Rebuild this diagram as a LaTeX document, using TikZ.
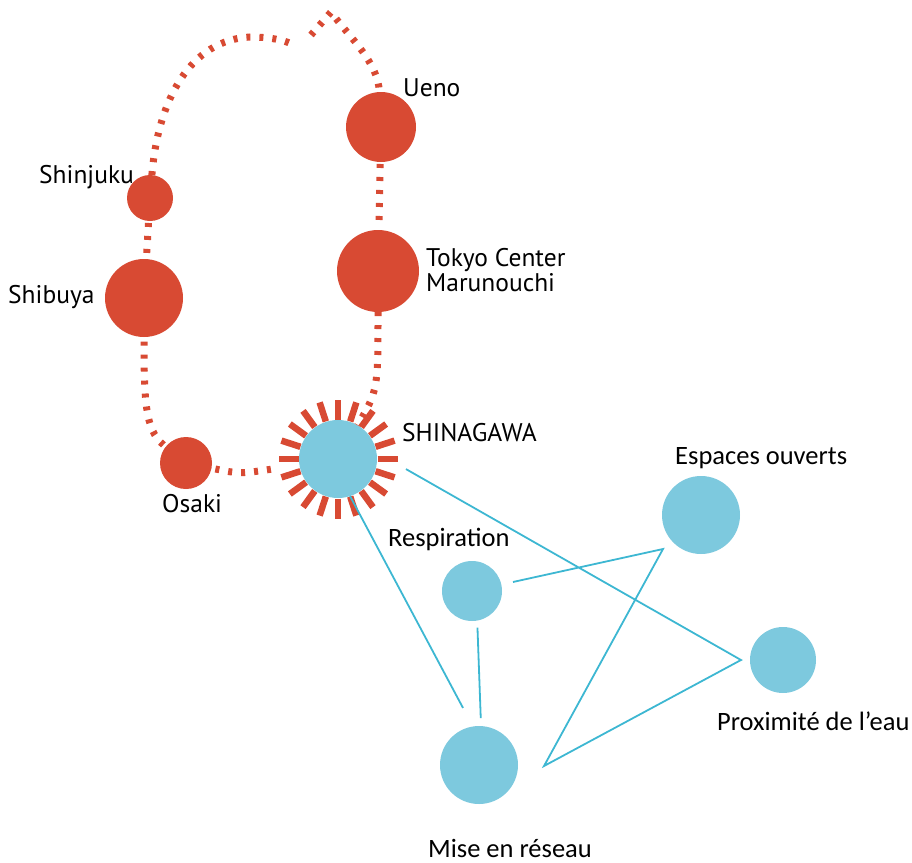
\documentclass[tikz,border=0pt]{standalone}
\usepackage{fontspec}
\setmainfont{Carlito}
\newfontfamily\stationfont{PT Sans}
\usetikzlibrary{calc}
\definecolor{railred}{HTML}{D84A33}
\definecolor{hubblue}{HTML}{7DC9DE}
\definecolor{linkblue}{HTML}{3DB7D2}
\tikzset{
  station/.style={circle, fill=railred, inner sep=0pt, outer sep=0pt, minimum size=#1},
  theme/.style={circle, fill=hubblue, inner sep=0pt, outer sep=0pt, minimum size=#1},
  rail/.style={draw=railred, line width=7pt, dash pattern=on 4pt off 9pt},
  link/.style={draw=linkblue, line width=1.8pt},
  stationlabel/.style={anchor=base west, inner sep=0pt, font=\stationfont\fontsize{25.5}{21}\selectfont},
  themelabel/.style={anchor=base west, inner sep=0pt, font=\fontsize{26.5}{26}\selectfont},
}

\begin{document}
\begin{tikzpicture}[x=1pt, y=-1pt]
\useasboundingbox (0,0) rectangle (912,862);
% stations on the loop
\node[station=70pt] (ueno) at (381,127) {};
\node[station=46pt] (shinjuku) at (150,198) {};
\node[station=82pt] (tokyo) at (378,271) {};
\node[station=78pt] (shibuya) at (144,298) {};
\node[station=52pt] (osaki) at (186,463) {};
\node[theme=78pt] (shinagawa) at (338,459) {};
% themes
\node[theme=78pt] (espaces) at (701,515) {};
\node[theme=60pt] (respiration) at (472,591) {};
\node[theme=66pt] (proximite) at (783,660) {};
\node[theme=78pt] (mise) at (479,765) {};

% the loop
\coordinate (breakL) at (292,44);
\coordinate (breakR) at (311,35);
\coordinate (summit) at (331,12);
\draw[rail] (shinjuku) .. controls (158,100) and (190,40) .. (250,37) .. controls (270,37) and (283,40) .. (breakL);
\draw[rail] (breakR) -- (summit) .. controls (350,38) and (378,62) .. (ueno);
\draw[rail, shorten <=2pt, shorten >=2pt] (ueno) -- (tokyo);
\draw[rail, shorten <=2pt, shorten >=2pt] (shinjuku) -- (shibuya);
\draw[rail, shorten <=3pt] (osaki) .. controls (145,430) and (144,400) .. (shibuya);
\draw[rail, shorten <=4pt, shorten >=20pt] (osaki) .. controls (240,474) .. (shinagawa);
\draw[rail] (tokyo) .. controls (378,390) .. (shinagawa);
% rays round the hub
\foreach \a in {0,18,...,342}
  \draw[railred, line width=6.5pt] (shinagawa.center) ++(\a+90:39.5) -- ++(\a+90:20);

% links between themes
\coordinate (kinkA) at (663,549);
\coordinate (kinkB) at (544,766);
\coordinate (kinkC) at (741,660);
\draw[link, shorten <=12pt] (respiration) -- (kinkA) -- (kinkB) -- (kinkC) -- ($(shinagawa.10)!34pt!(kinkC)$);
\draw[link, shorten >=21pt] (shinagawa.-72) -- (mise.99);
\draw[link, shorten <=7pt, shorten >=8pt] (respiration.-80) -- (mise.87);

% labels
\node[stationlabel] (uenolbl) at (403,96) {Ueno};
\node[stationlabel] (shinjukulbl) at (39,183) {Shinjuku};
\node[stationlabel] (shibuyalbl) at (8,303) {Shibuya};
\node[stationlabel, anchor=west, align=left] (tokyolbl) at (426,270) {Tokyo Center\\Marunouchi};
\node[stationlabel] (shinagawalbl) at (402,441) {SHINAGAWA};
\node[stationlabel] (osakilbl) at (162,512) {Osaki};
\node[themelabel] (espaceslbl) at (675,464) {Espaces ouverts};
\node[themelabel] (respirationlbl) at (388,546) {Respiration};
\node[themelabel] (proximitelbl) at (717,730) {Proximité de l’eau};
\node[themelabel] (miselbl) at (428,857) {Mise en réseau};
\end{tikzpicture}
\end{document}
